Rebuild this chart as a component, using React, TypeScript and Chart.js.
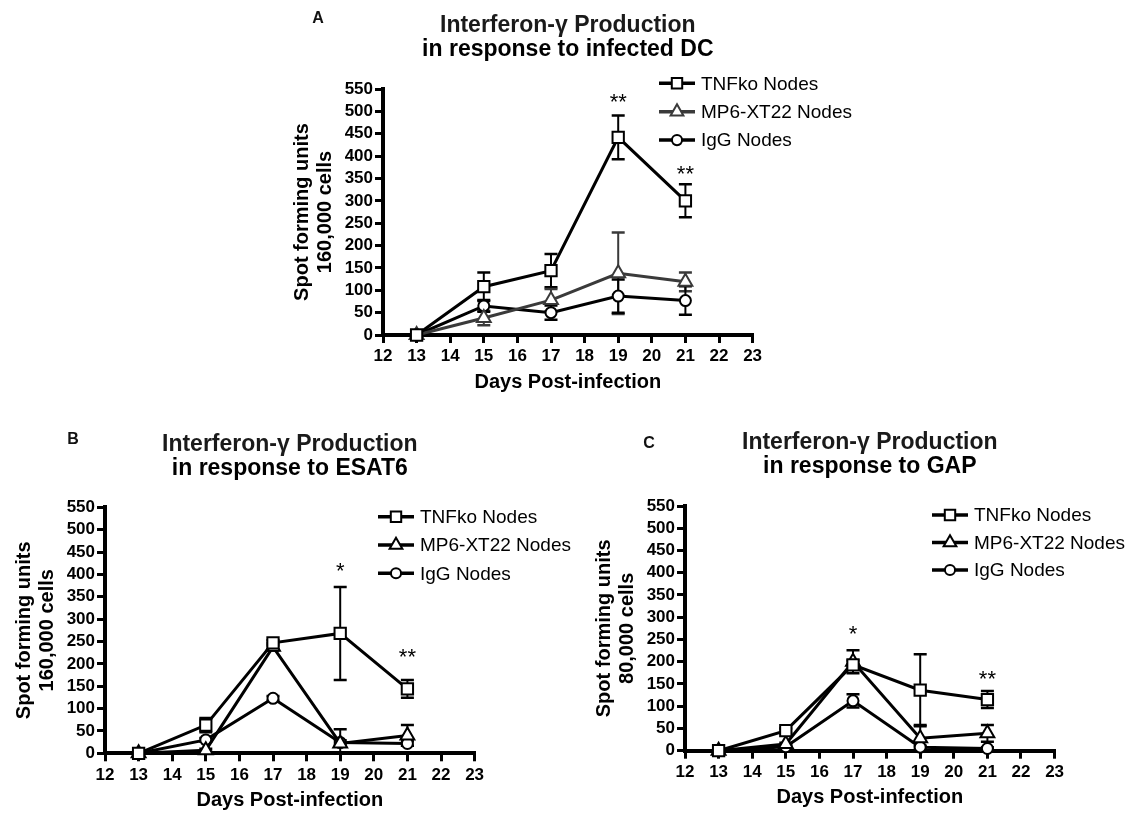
import React, { useEffect, useRef } from 'react';
import { Chart, registerables } from 'chart.js';

Chart.register(...registerables);

const FONT = '"Liberation Sans", Arial, Helvetica, sans-serif';

// ---------- shared axis data ----------
const DAYS = [13, 15, 17, 19, 21];
const SERIES_NAMES = ['TNFko Nodes', 'MP6-XT22 Nodes', 'IgG Nodes'];
const X_MIN = 12;
const X_MAX = 23;
const X_STEP = 1;
const Y_MIN = 0;
const Y_MAX = 550;
const Y_STEP = 50;
const TITLE_LINE1 = 'Interferon-γ Production';
const X_TITLE = 'Days Post-infection';
const Y_TITLE_LINE1 = 'Spot forming units';

// ---------- Panel A: infected DC ----------
const A_TNF = [0, 108, 144, 442, 300];
const A_TNF_SEM = [0, 32, 37, 49, 37];
const A_MP6 = [0, 38, 78, 138, 119];
const A_MP6_SEM = [0, 16, 25, 91, 21];
const A_IGG = [0, 65, 50, 87, 77];
const A_IGG_SEM = [0, 13, 16, 37, 32];
const A_SIG_DAYS = [19, 21];
const A_SIG_LABELS = ['**', '**'];
const A_SIG_Y = [530, 369];

// ---------- Panel B: ESAT6 ----------
const B_TNF = [0, 63, 247, 268, 144];
const B_TNF_SEM = [0, 16, 6, 104, 20];
const B_MP6 = [0, 7, 238, 22, 40];
const B_MP6_SEM = [0, 3, 8, 32, 23];
const B_IGG = [0, 30, 123, 24, 22];
const B_IGG_SEM = [0, 4, 5, 5, 5];
const B_SIG_DAYS = [19, 21];
const B_SIG_LABELS = ['*', '**'];
const B_SIG_Y = [417, 224];

// ---------- Panel C: GAP ----------
const C_TNF = [0, 45, 193, 136, 115];
const C_TNF_SEM = [0, 5, 10, 81, 19];
const C_MP6 = [0, 15, 200, 28, 39];
const C_MP6_SEM = [0, 3, 26, 30, 19];
const C_IGG = [0, 9, 112, 8, 5];
const C_IGG_SEM = [0, 3, 15, 3, 3];
const C_SIG_DAYS = [17, 21];
const C_SIG_LABELS = ['*', '**'];
const C_SIG_Y = [271, 170];

const W = 1137;
const H = 814;
const Y_SCALE_W = 92.5;
const X_SCALE_H = 58.5;

type Series = { name: string; values: number[]; sem: number[]; color: string; style: string; r: number };
type Panel = {
  letter: string;
  subtitle: string;
  yLine2: string;
  series: Series[];
  sigDays: number[];
  sigLabels: string[];
  sigY: number[];
  area: { l: number; r: number; t: number; b: number };
  letterPos: [number, number];
  legend: { x: number; y: number; dy: number };
};

const STYLES = ['rect', 'triangle', 'circle'];
const RADII = [8, 8, 5.5];

function mkSeries(vals: number[][], sems: number[][], colors: string[]): Series[] {
  return vals.map((v, i) => ({
    name: SERIES_NAMES[i],
    values: v,
    sem: sems[i],
    color: colors[i],
    style: STYLES[i],
    r: RADII[i],
  }));
}

const PANELS: Panel[] = [
  {
    letter: 'A',
    subtitle: 'in response to infected DC',
    yLine2: '160,000 cells',
    series: mkSeries([A_TNF, A_MP6, A_IGG], [A_TNF_SEM, A_MP6_SEM, A_IGG_SEM], ['#000', '#3a3a3a', '#000']),
    sigDays: A_SIG_DAYS,
    sigLabels: A_SIG_LABELS,
    sigY: A_SIG_Y,
    area: { l: 383, r: 752.6, t: 89, b: 335 },
    letterPos: [318, 19],
    legend: { x: 659, y: 83.3, dy: 28.4 },
  },
  {
    letter: 'B',
    subtitle: 'in response to ESAT6',
    yLine2: '160,000 cells',
    series: mkSeries([B_TNF, B_MP6, B_IGG], [B_TNF_SEM, B_MP6_SEM, B_IGG_SEM], ['#000', '#000', '#000']),
    sigDays: B_SIG_DAYS,
    sigLabels: B_SIG_LABELS,
    sigY: B_SIG_Y,
    area: { l: 105, r: 474.6, t: 507.3, b: 753.3 },
    letterPos: [73, 440],
    legend: { x: 378, y: 516.7, dy: 28.3 },
  },
  {
    letter: 'C',
    subtitle: 'in response to GAP',
    yLine2: '80,000 cells',
    series: mkSeries([C_TNF, C_MP6, C_IGG], [C_TNF_SEM, C_MP6_SEM, C_IGG_SEM], ['#000', '#000', '#000']),
    sigDays: C_SIG_DAYS,
    sigLabels: C_SIG_LABELS,
    sigY: C_SIG_Y,
    area: { l: 685, r: 1054.6, t: 506, b: 750.7 },
    letterPos: [649, 444],
    legend: { x: 932, y: 515, dy: 27.5 },
  },
];

function drawMarker(ctx: CanvasRenderingContext2D, style: string, x: number, y: number, r: number, color: string) {
  ctx.beginPath();
  if (style === 'rect') {
    const s = r * Math.SQRT1_2;
    ctx.rect(x - s, y - s, 2 * s, 2 * s);
  } else if (style === 'triangle') {
    ctx.moveTo(x, y - r);
    ctx.lineTo(x + 0.866 * r, y + 0.5 * r);
    ctx.lineTo(x - 0.866 * r, y + 0.5 * r);
    ctx.closePath();
  } else {
    ctx.arc(x, y, r, 0, Math.PI * 2);
  }
  ctx.fillStyle = '#fff';
  ctx.fill();
  ctx.lineWidth = 2;
  ctx.strokeStyle = color;
  ctx.stroke();
}

function makeOverlay(p: Panel) {
  return {
    id: 'overlay' + p.letter,
    beforeDatasetsDraw(chart: any) {
      const ctx: CanvasRenderingContext2D = chart.ctx;
      const xs = chart.scales.x;
      const ys = chart.scales.y;
      ctx.save();
      p.series.forEach((s) => {
        ctx.strokeStyle = s.color;
        s.values.forEach((v, j) => {
          const e = s.sem[j];
          if (!e) return;
          const x = xs.getPixelForValue(DAYS[j]);
          const y1 = ys.getPixelForValue(v + e);
          const y2 = ys.getPixelForValue(Math.max(0, v - e));
          ctx.lineWidth = 2;
          ctx.beginPath();
          ctx.moveTo(x, y1);
          ctx.lineTo(x, y2);
          ctx.stroke();
          ctx.lineWidth = 2.5;
          ctx.beginPath();
          ctx.moveTo(x - 6.5, y1);
          ctx.lineTo(x + 6.5, y1);
          ctx.moveTo(x - 6.5, y2);
          ctx.lineTo(x + 6.5, y2);
          ctx.stroke();
        });
      });
      ctx.restore();
    },
    afterDraw(chart: any) {
      const ctx: CanvasRenderingContext2D = chart.ctx;
      const xs = chart.scales.x;
      const ys = chart.scales.y;
      const ca = chart.chartArea;
      ctx.save();
      // panel letter
      ctx.fillStyle = '#111';
      ctx.font = `bold 16px ${FONT}`;
      ctx.textAlign = 'center';
      ctx.textBaseline = 'middle';
      ctx.fillText(p.letter, p.letterPos[0], p.letterPos[1]);
      // titles
      const cx = (ca.left + ca.right) / 2;
      ctx.font = `bold 23px ${FONT}`;
      ctx.fillStyle = '#1a1a1a';
      ctx.fillText(TITLE_LINE1, cx, ca.top - 63);
      ctx.fillStyle = '#000';
      ctx.fillText(p.subtitle, cx, ca.top - 39);
      // significance
      ctx.font = `22px ${FONT}`;
      p.sigDays.forEach((d, i) => {
        ctx.fillText(p.sigLabels[i], xs.getPixelForValue(d), ys.getPixelForValue(p.sigY[i]) + 5);
      });
      // legend
      ctx.font = `19px ${FONT}`;
      ctx.textAlign = 'left';
      p.series.forEach((s, i) => {
        const y = p.legend.y + i * p.legend.dy;
        const x0 = p.legend.x;
        ctx.strokeStyle = s.color;
        ctx.lineWidth = 3.5;
        ctx.beginPath();
        ctx.moveTo(x0, y);
        ctx.lineTo(x0 + 36, y);
        ctx.stroke();
        drawMarker(ctx, s.style, x0 + 18, y, s.r * 0.92, s.color);
        ctx.fillStyle = '#000';
        ctx.fillText(s.name, x0 + 42, y + 1);
      });
      ctx.restore();
    },
  };
}

function buildConfig(p: Panel): any {
  const tickFont = { family: FONT, size: 17, weight: 'bold' as const };
  const titleFont = { family: FONT, size: 20, weight: 'bold' as const, lineHeight: 1.15 };
  return {
    type: 'line',
    data: {
      datasets: p.series.map((s) => ({
        label: s.name,
        data: s.values.map((v, j) => ({ x: DAYS[j], y: v })),
        borderColor: s.color,
        borderWidth: 3,
        backgroundColor: '#fff',
        pointStyle: s.style,
        pointRadius: s.r,
        pointBorderWidth: 2,
        pointBackgroundColor: '#fff',
        pointBorderColor: s.color,
        tension: 0,
        fill: false,
        clip: false,
      })),
    },
    options: {
      responsive: false,
      animation: false,
      devicePixelRatio: 1,
      events: [],
      layout: {
        padding: {
          left: p.area.l - Y_SCALE_W,
          right: W - p.area.r,
          top: p.area.t,
          bottom: H - p.area.b - X_SCALE_H,
        },
      },
      plugins: {
        legend: { display: false },
        tooltip: { enabled: false },
        title: { display: false },
      },
      scales: {
        x: {
          type: 'linear',
          min: X_MIN,
          max: X_MAX,
          ticks: { stepSize: X_STEP, color: '#000', font: tickFont, padding: 3.5, autoSkip: false, maxRotation: 0 },
          grid: { display: true, drawOnChartArea: false, drawTicks: true, tickLength: 8, color: '#000', lineWidth: 3 },
          border: { display: true, color: '#000', width: 4 },
          title: { display: true, text: X_TITLE, color: '#000', font: titleFont, padding: 0 },
          afterFit: (s: any) => {
            s.height = X_SCALE_H;
          },
        },
        y: {
          type: 'linear',
          min: Y_MIN,
          max: Y_MAX,
          ticks: { stepSize: Y_STEP, color: '#000', font: tickFont, padding: 2, autoSkip: false },
          grid: { display: true, drawOnChartArea: false, drawTicks: true, tickLength: 8, color: '#000', lineWidth: 3 },
          border: { display: true, color: '#000', width: 4 },
          title: { display: true, text: [Y_TITLE_LINE1, p.yLine2], color: '#000', font: titleFont, padding: 0 },
          afterFit: (s: any) => {
            s.width = Y_SCALE_W;
          },
        },
      },
    },
    plugins: [makeOverlay(p)],
  };
}

function PanelCanvas({ panel }: { panel: Panel }) {
  const ref = useRef<HTMLCanvasElement | null>(null);
  useEffect(() => {
    if (!ref.current) return;
    const chart = new Chart(ref.current, buildConfig(panel));
    return () => chart.destroy();
  }, [panel]);
  return (
    <canvas
      ref={ref}
      width={W}
      height={H}
      style={{ position: 'absolute', left: 0, top: 0, width: W, height: H }}
    />
  );
}

export default function App() {
  return (
    <div style={{ position: 'absolute', left: 0, top: 0, width: W, height: H, background: '#fff', overflow: 'hidden' }}>
      {PANELS.map((p) => (
        <PanelCanvas key={p.letter} panel={p} />
      ))}
    </div>
  );
}
